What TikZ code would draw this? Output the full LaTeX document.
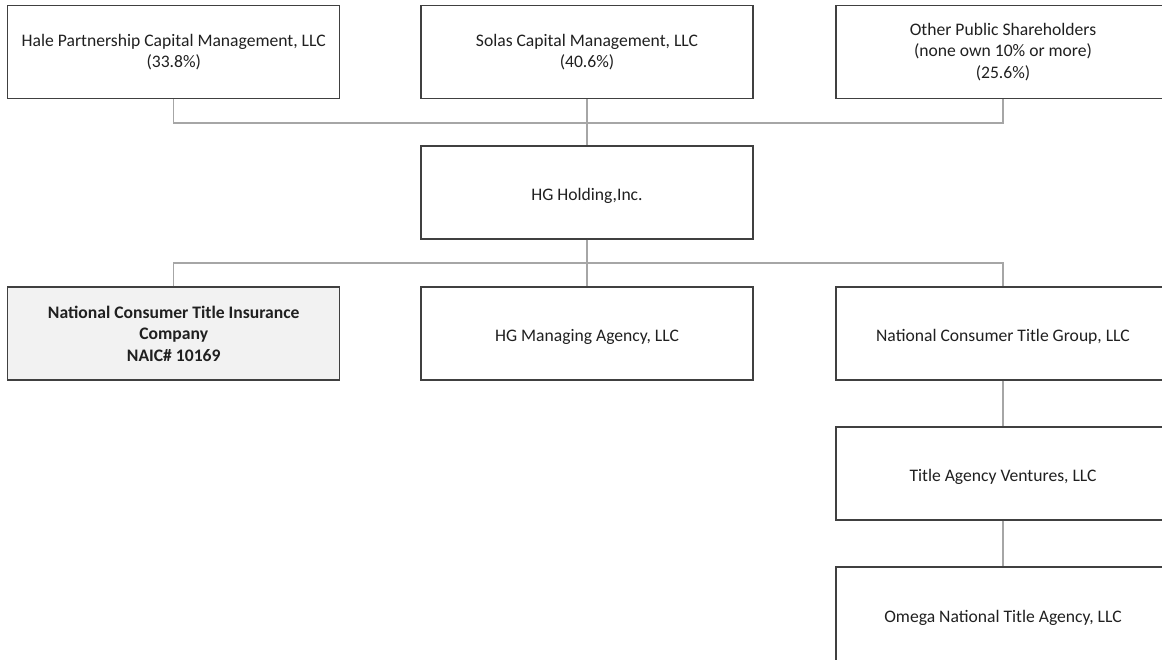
\documentclass[tikz,border=0pt]{standalone}
\usepackage{fontspec}
\setmainfont{Carlito}
\definecolor{boxline}{HTML}{404040}
\definecolor{conn}{HTML}{A6A6A6}
\definecolor{txt}{HTML}{202020}
\definecolor{shade}{HTML}{F2F2F2}
\begin{document}
\begin{tikzpicture}[x=1pt,y=-1pt,
  orgbox/.style={draw=boxline,line width=1.2pt,fill=white,minimum width=332pt,minimum height=93pt,
    align=center,inner sep=0pt,text=txt,font=\fontsize{17.6}{21.5}\selectfont,
    execute at begin node={\rule{0pt}{19pt}}},
  link/.style={draw=conn,line width=1.1pt}]
\useasboundingbox (0,0) rectangle (1162,660);
\clip (0,0) rectangle (1162,660);
\node[orgbox] (hale) at (173.75,52) {Hale Partnership Capital Management, LLC\\(33.8\%)};
\node[orgbox] (solas) at (587,52) {Solas Capital Management, LLC\\(40.6\%)};
\node[orgbox,minimum width=334pt] (other) at (1003,52) {Other Public Shareholders\\(none own 10\% or more)\\(25.6\%)};
\node[orgbox] (hg) at (587,192.5) {HG Holding,Inc.};
\node[orgbox,fill=shade,font=\bfseries\fontsize{17.6}{21.5}\selectfont] (nctic) at (173.75,333.5) {National Consumer Title Insurance\\Company\\NAIC\# 10169};
\node[orgbox] (hgma) at (587,333.5) {HG Managing Agency, LLC};
\node[orgbox,minimum width=334pt] (nctg) at (1003,333.5) {National Consumer Title Group, LLC};
\node[orgbox,minimum width=334pt] (tav) at (1003,473.5) {Title Agency Ventures, LLC};
\node[orgbox,minimum width=334pt,minimum height=96pt] (omega) at (1003,615) {Omega National Title Agency, LLC};
\coordinate (j1) at (587,123);
\coordinate (j2) at (587,263);
\draw[link] (hale.south) |- (j1) -| (other.south);
\draw[link] (solas.south) -- (hg.north);
\draw[link] (hg.south) -- (hgma.north);
\draw[link] (nctic.north) |- (j2) -| (nctg.north);
\draw[link] (nctg.south) -- (tav.north);
\draw[link] (tav.south) -- (omega.north);
\end{tikzpicture}
\end{document}
